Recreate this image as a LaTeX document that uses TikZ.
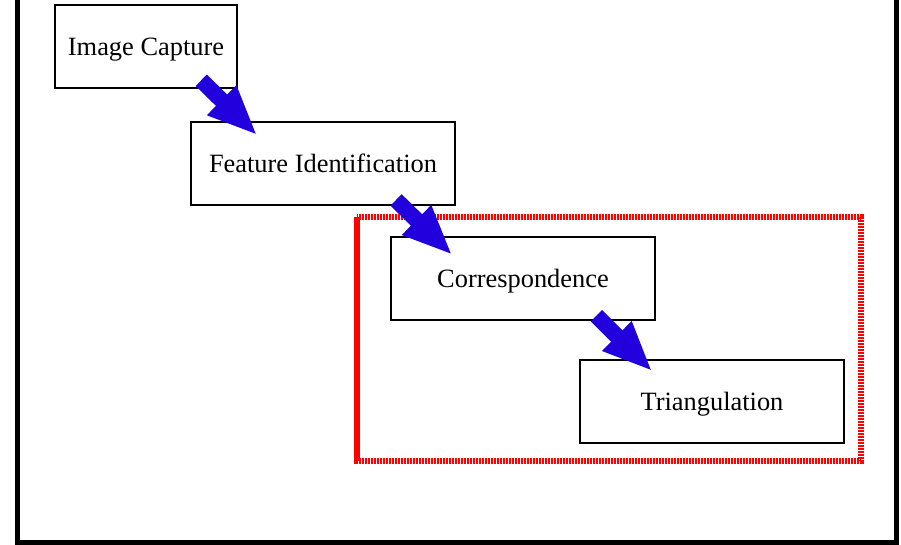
\documentclass[tikz,border=0pt]{standalone}
\usepackage{fontspec}
\setmainfont{Liberation Serif}
\usetikzlibrary{arrows.meta, positioning, calc}

\definecolor{arrowblue}{RGB}{34,0,221}

\tikzset{
  stagebox/.style={draw, line width=0.75pt, minimum height=41.5pt,
    inner sep=2pt, text height=9.5pt, text depth=0pt,
    font=\fontsize{13.2}{16}\selectfont},
  blockarrow/.style={arrowblue, line width=8pt,
    -{Triangle[width=19pt, length=25pt]}},
  groupbox/.style={red, line width=3pt, dash pattern=on 1.1pt off 0.4pt}
}

\begin{document}
\begin{tikzpicture}[x=0.5pt, y=-0.5pt]
  \useasboundingbox (0,0) rectangle (901,545);

  % outer frame (top edge is cut off)
  \draw[line width=2.5pt] (17.5,-10) -- (17.5,543) -- (896.5,543) -- (896.5,-10);

  % grouping box round the last two stages
  \draw[groupbox] (357,217.5) rectangle (860.5,461.5);

  % pipeline stages
  \node[stagebox, minimum width=91pt] (cap) at (146,46.5) {Image Capture};
  \node[stagebox, minimum width=132pt] (feat) at (323,163.5) {Feature Identification};
  \node[stagebox, minimum width=132pt] (corr) at (523,278.5) {Correspondence};
  \node[stagebox, minimum width=132pt] (tri) at (712,401.5) {Triangulation};

  % block arrows between stages
  \draw[blockarrow] ($(cap.south east)+(-36.5,-8.5)$) -- ($(feat.north west)+(67,14)$);
  \draw[blockarrow] ($(feat.south east)+(-59.7,-5.8)$) -- ($(corr.north west)+(62,18.7)$);
  \draw[blockarrow] ($(corr.south east)+(-59.3,-5)$) -- ($(tri.north west)+(73,12)$);
\end{tikzpicture}
\end{document}
